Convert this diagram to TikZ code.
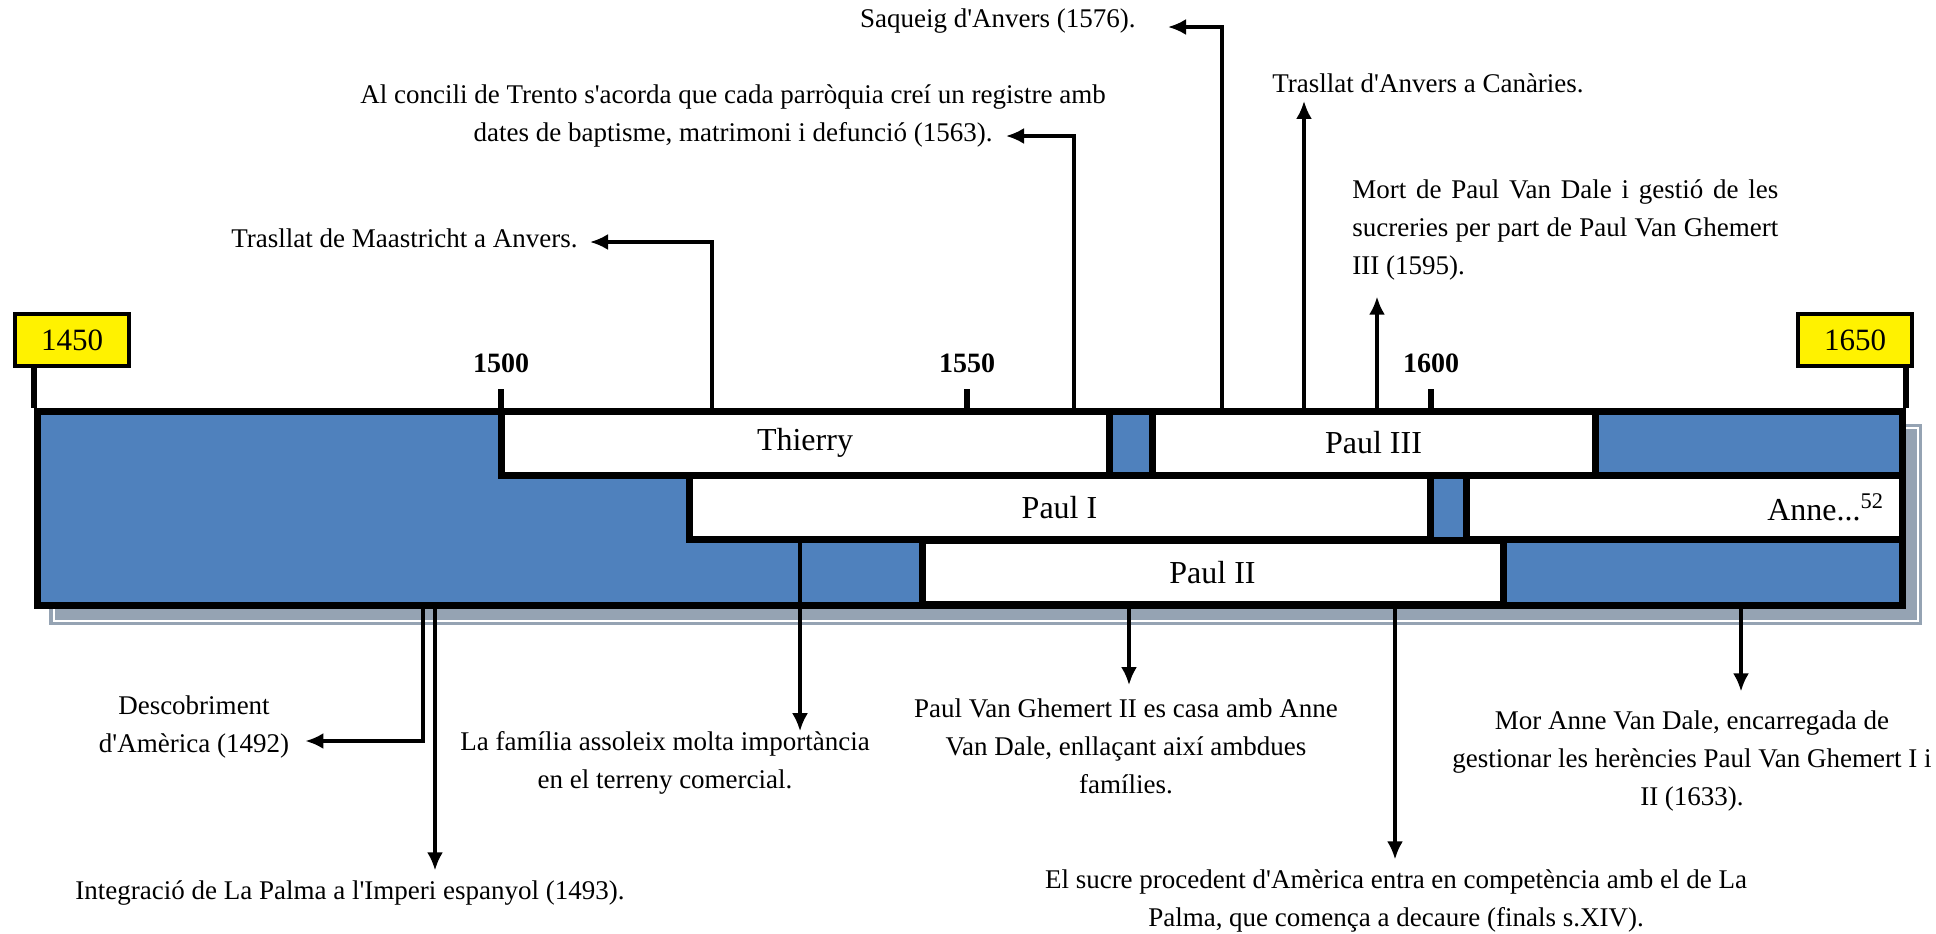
\documentclass[tikz,border=0pt]{standalone}
\usepackage{fontspec}
\setmainfont{Liberation Serif}[Ligatures=TeXOff]
\usepackage{tikz}
\usetikzlibrary{arrows.meta, positioning}
\definecolor{barblue}{HTML}{4F81BD}
\definecolor{shadowgray}{HTML}{95A3B3}
\tikzstyle{yearbox} = [draw, fill=yellow, line width=2pt, minimum width=57pt, minimum height=26pt, inner sep=0pt, font=\fontsize{15.5}{18}\selectfont]
\tikzstyle{yearlbl} = [inner sep=0pt, font=\bfseries\fontsize{14}{16}\selectfont]
\tikzstyle{tick} = [line width=3pt]
\tikzstyle{life} = [draw, fill=white, line width=3.5pt, inner sep=0pt, minimum height=32pt, font=\fontsize{16}{18}\selectfont]
\tikzstyle{event} = [inner sep=0pt, font=\fontsize{13.5}{19}\selectfont]
\tikzstyle{pointer} = [line width=1.6pt, -{Latex[length=9pt,width=8pt]}]
\newcommand{\jline}[1]{\makebox[213pt][s]{#1}}

\begin{document}
\begin{tikzpicture}[x=0.5pt, y=-0.5pt]
        \useasboundingbox (0,0) rectangle (1936,933);
        \fill [shadowgray] (49,424) rectangle (1922,625);
        \draw [white, line width=0.6pt] (54,428) rectangle (1918,621);
        \node (bar) [draw, fill=barblue, line width=3.5pt, minimum width=932.5pt, minimum height=97pt] at (969.5,508) {};
        \node (thierry) [life, minimum width=304pt] at (805,443) {Thierry};
        \node (paul3) [life, minimum width=221.5pt] at (1373.5,443) {Paul III};
        \node (paul1) [life, minimum width=370.5pt] at (1059.5,507.5) {Paul I};
        \node (anne) [life, minimum width=218pt, text width=200pt, align=right] at (1684,507.5) {Anne...\textsuperscript{52}};
        \node (paul2) [life, minimum width=290.5pt] at (1212.5,572.5) {Paul II};

        \node (y1450) [yearbox] at (72,340) {1450};
        \node (y1650) [yearbox] at (1855,340) {1650};
        \draw [tick] (bar.north west) -- (bar.north west |- y1450.south);
        \draw [tick] (bar.north east) -- (bar.north east |- y1650.south);
        \coordinate (t1500) at (501,389);
        \coordinate (t1550) at (967,389);
        \coordinate (t1600) at (1431,389);
        \draw [tick] (t1500) -- (501,411);
        \draw [tick] (t1550) -- (967,411);
        \draw [tick] (t1600) -- (1431,411);
        \node (l1500) [yearlbl, above=8pt of t1500] {1500};
        \node (l1550) [yearlbl, above=8pt of t1550] {1550};
        \node (l1600) [yearlbl, above=8pt of t1600] {1600};

        \node (saqueig) [event, anchor=east] at (1136,21) {Saqueig d'Anvers (1576).};
        \node (canaries) [event, anchor=west] at (1272,83) {Trasllat d'Anvers a Canàries.};
        \node (concili) [event, align=center] at (733,116) {Al concili de Trento s'acorda que cada parròquia creí un registre amb\\dates de baptisme, matrimoni i defunció (1563).};
        \node (maastricht) [event, anchor=east] at (578,238) {Trasllat de Maastricht a Anvers.};
        \node (mort) [event, anchor=west, align=left] at (1352,230) {\jline{Mort de Paul Van Dale i gestió de les}\\\jline{sucreries per part de Paul Van Ghemert}\\III (1595).};
        \node (descob) [event, align=center] at (194,727) {Descobriment\\d'Amèrica (1492)};
        \node (integra) [event] at (350,893) {Integració de La Palma a l'Imperi espanyol (1493).};
        \node (familia) [event, align=center] at (665,763) {La família assoleix molta importància\\en el terreny comercial.};
        \node (casament) [event, align=center] at (1126,746) {Paul Van Ghemert II es casa amb Anne\\Van Dale, enllaçant així ambdues\\famílies.};
        \node (sucre) [event, align=center] at (1396,901) {El sucre procedent d'Amèrica entra en competència amb el de La\\Palma, que comença a decaure (finals s.XIV).};
        \node (moranne) [event, align=center] at (1692,761) {Mor Anne Van Dale, encarregada de\\gestionar les herències Paul Van Ghemert I i\\II (1633).};

        \coordinate (e1576) at (1222,411);
        \coordinate (e1580) at (1304,411);
        \coordinate (e1563) at (1074,411);
        \coordinate (e1520) at (712,411);
        \coordinate (e1595) at (1377,411);
        \coordinate (e1492) at (423,605);
        \coordinate (e1493) at (435,605);
        \coordinate (e1530) at (800,540);
        \coordinate (e1560) at (1129,605);
        \coordinate (e1590) at (1395,605);
        \coordinate (e1633) at (1741,605);
        \draw [pointer, shorten >=16pt] (e1576) |- ([yshift=-3pt]saqueig.east);
        \draw [pointer, shorten >=4pt] (e1580) -- (e1580 |- canaries.south);
        \draw [pointer] (e1563) |- ([xshift=136.5pt, yshift=-10pt]concili.center);
        \draw [pointer, shorten >=6pt] (e1520) |- ([yshift=-2pt]maastricht.east);
        \draw [pointer, shorten >=8pt] (e1595) -- (e1595 |- mort.south);
        \draw [pointer, shorten >=8pt] (e1492) |- ([yshift=-7pt]descob.east);
        \draw [pointer, shorten >=5pt] (e1493) -- (e1493 |- integra.north);
        \draw [pointer] (e1530) -- (e1530 |- familia.north);
        \draw [pointer, shorten >=6.5pt] (e1560) -- (e1560 |- casament.north);
        \draw [pointer, shorten >=5pt] (e1590) -- (e1590 |- sucre.north);
        \draw [pointer, shorten >=9.5pt] (e1633) -- (e1633 |- moranne.north);
    \end{tikzpicture}
\end{document}
